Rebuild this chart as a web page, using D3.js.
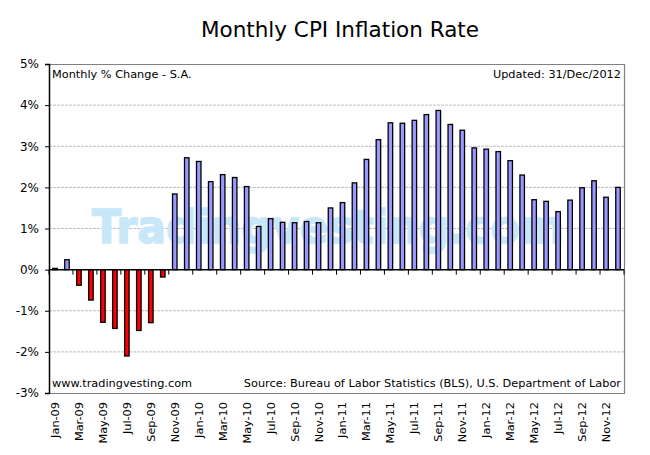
<!DOCTYPE html>
<html><head><meta charset="utf-8">
<script src="https://cdnjs.cloudflare.com/ajax/libs/d3/7.8.5/d3.min.js"></script>
<style>body{margin:0;background:#fff}svg{display:block}text{font-family:"DejaVu Sans",Verdana,sans-serif}</style>
</head><body><svg id="c" width="650" height="455"></svg>
<script>
const months = ["Jan-09","Feb-09","Mar-09","Apr-09","May-09","Jun-09","Jul-09","Aug-09","Sep-09","Oct-09","Nov-09","Dec-09",
"Jan-10","Feb-10","Mar-10","Apr-10","May-10","Jun-10","Jul-10","Aug-10","Sep-10","Oct-10","Nov-10","Dec-10",
"Jan-11","Feb-11","Mar-11","Apr-11","May-11","Jun-11","Jul-11","Aug-11","Sep-11","Oct-11","Nov-11","Dec-11",
"Jan-12","Feb-12","Mar-12","Apr-12","May-12","Jun-12","Jul-12","Aug-12","Sep-12","Oct-12","Nov-12","Dec-12"];
const values = [0.03,0.24,-0.38,-0.74,-1.28,-1.43,-2.10,-1.48,-1.29,-0.18,1.84,2.72,
2.63,2.14,2.31,2.24,2.02,1.05,1.24,1.15,1.14,1.17,1.14,1.50,
1.63,2.11,2.68,3.16,3.57,3.56,3.63,3.77,3.87,3.53,3.39,2.96,
2.93,2.87,2.65,2.30,1.70,1.66,1.41,1.69,1.99,2.16,1.76,2.00];
const yTicks = [5,4,3,2,1,0,-1,-2,-3];
const xLabels = months.filter((m,i)=>i%2===0);

const svg = d3.select("#c");
const L=49, R=624, T=64, B=393;
const x = d3.scaleBand().domain(months).range([L,R]).padding(0);
const y = d3.scaleLinear().domain([-3,5]).range([B,T]);

svg.append("text").attr("x",340).attr("y",37).attr("text-anchor","middle")
  .attr("font-size",21.5).attr("fill","#000").text("Monthly CPI Inflation Rate");

// grid
svg.append("g").selectAll("line").data(yTicks.filter(v=>v!==0&&v!==5&&v!==-3)).join("line")
  .attr("x1",L).attr("x2",R).attr("y1",d=>y(d)).attr("y2",d=>y(d))
  .attr("stroke","#bdbdbd").attr("stroke-dasharray","3,1").attr("stroke-width",1);

// frame top/right/bottom
svg.append("path").attr("d",`M${L},${y(5)+0.5}H${R+0.5}V${y(-3)+0.5}H${L}`)
  .attr("fill","none").attr("stroke","#808080").attr("stroke-width",1.2);

// watermark
svg.append("text").attr("x",328).attr("y",243).attr("text-anchor","middle")
  .attr("font-family","'Liberation Sans',Arial,sans-serif").attr("font-weight","bold")
  .attr("font-size",47).attr("fill","#c8e8fa").attr("stroke","#c8e8fa").attr("stroke-width",1.5)
  .attr("textLength",472).attr("lengthAdjust","spacingAndGlyphs")
  .text("Tradingvesting.com");

// bars
const bw = 4.5;
svg.append("g").selectAll("rect").data(values).join("rect")
  .attr("x",(d,i)=>x(months[i])+x.bandwidth()/2-bw/2)
  .attr("width",bw)
  .attr("y",d=>y(Math.max(0,d)))
  .attr("height",d=>Math.abs(y(d)-y(0)))
  .attr("fill",d=>d<0?"#ff0000":"#9999ff")
  .attr("stroke","#000").attr("stroke-width",1.3);

// y axis
const ya = svg.append("g").attr("transform",`translate(${L},0)`)
  .call(d3.axisLeft(y).tickValues(yTicks).tickFormat(d=>d+"%").tickSize(4).tickPadding(6));
ya.select(".domain").attr("stroke","#000").attr("stroke-width",1.5);
ya.selectAll("text").attr("font-size",12).attr("fill","#000").attr("font-family","'DejaVu Sans',Verdana,sans-serif");
ya.selectAll(".tick line").attr("stroke","#000");

// zero axis with ticks
const tickPos = d3.range(0,49,2).map(i=>L+i*x.bandwidth());
svg.append("line").attr("x1",L).attr("x2",R).attr("y1",y(0)).attr("y2",y(0)).attr("stroke","#000").attr("stroke-width",1.5);
svg.append("g").selectAll("line").data(tickPos).join("line")
  .attr("x1",d=>d).attr("x2",d=>d).attr("y1",y(0)).attr("y2",y(0)+5).attr("stroke","#000");

// x labels
svg.append("g").selectAll("text").data(xLabels).join("text")
  .attr("transform",d=>`translate(${x(d)+x.bandwidth()/2+4},402) rotate(-90)`)
  .attr("text-anchor","end").attr("font-size",11.3).attr("fill","#000").text(d=>d);

// annotations
const fs = 11.3;
svg.append("text").attr("x",52).attr("y",78).attr("font-size",fs).attr("fill","#000").text("Monthly % Change - S.A.");
svg.append("text").attr("x",621).attr("y",78).attr("text-anchor","end").attr("font-size",fs).attr("fill","#000").text("Updated: 31/Dec/2012");
svg.append("text").attr("x",52).attr("y",387).attr("font-size",fs).attr("fill","#000").text("www.tradingvesting.com");
svg.append("text").attr("x",621).attr("y",387).attr("text-anchor","end").attr("font-size",fs).attr("fill","#000").text("Source: Bureau of Labor Statistics (BLS), U.S. Department of Labor");
</script></body></html>
